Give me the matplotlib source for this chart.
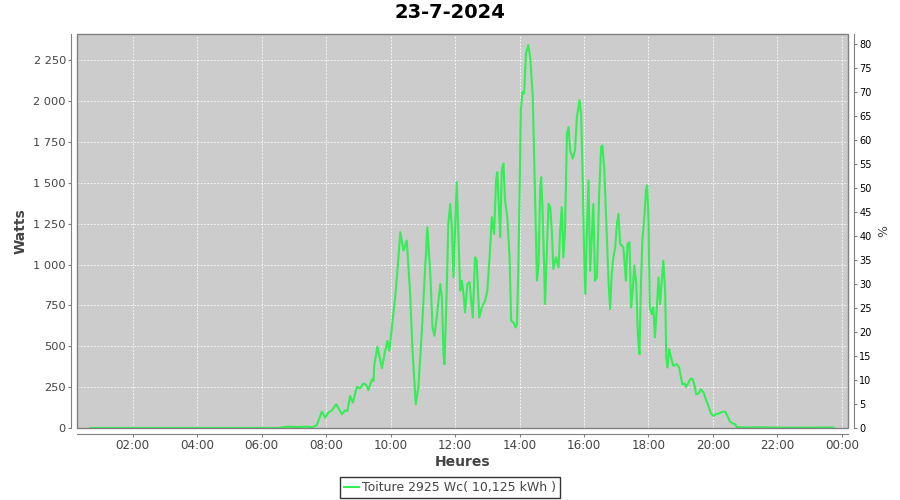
import matplotlib

matplotlib.use("Agg")
import matplotlib.pyplot as plt
from matplotlib.patches import Rectangle
from matplotlib.ticker import FuncFormatter

plt.rcParams["font.family"] = ["DejaVu Sans"]

TITRE = "23-7-2024"
SERIE = "Toiture 2925 Wc( 10,125 kWh )"

# production relevée (heure décimale, W)
heures = [
    0.68, 1.5, 2.5, 3.5, 4.5, 5.5, 6.5, 6.8, 7.1, 7.4, 7.55, 7.70,
    7.87, 7.97, 8.07, 8.18, 8.31, 8.49, 8.59, 8.66, 8.74, 8.83, 8.95, 9.05,
    9.16, 9.24, 9.31, 9.42, 9.47, 9.49, 9.59, 9.73, 9.83, 9.90, 9.96, 10.04,
    10.14, 10.22, 10.30, 10.40, 10.50, 10.60, 10.68, 10.78, 10.86, 10.97, 11.05, 11.14,
    11.23, 11.30, 11.36, 11.43, 11.54, 11.59, 11.64, 11.67, 11.74, 11.79, 11.85, 11.90,
    11.95, 12.00, 12.05, 12.10, 12.16, 12.21, 12.26, 12.31, 12.38, 12.45, 12.50, 12.55,
    12.62, 12.67, 12.75, 12.83, 12.93, 13.00, 13.07, 13.14, 13.21, 13.27, 13.31, 13.36,
    13.40, 13.45, 13.50, 13.55, 13.62, 13.69, 13.74, 13.81, 13.88, 13.92, 13.96, 13.99,
    14.04, 14.09, 14.14, 14.20, 14.27, 14.33, 14.41, 14.48, 14.54, 14.59, 14.64, 14.67,
    14.71, 14.76, 14.79, 14.85, 14.90, 14.95, 15.00, 15.05, 15.13, 15.21, 15.26, 15.31,
    15.36, 15.41, 15.47, 15.52, 15.57, 15.65, 15.72, 15.78, 15.86, 15.91, 15.96, 16.00,
    16.04, 16.09, 16.14, 16.19, 16.24, 16.29, 16.34, 16.40, 16.47, 16.53, 16.57, 16.63,
    16.71, 16.76, 16.81, 16.86, 16.91, 16.97, 17.02, 17.07, 17.12, 17.22, 17.30, 17.35,
    17.41, 17.46, 17.51, 17.56, 17.62, 17.67, 17.72, 17.77, 17.81, 17.88, 17.92, 17.96,
    18.00, 18.04, 18.10, 18.15, 18.20, 18.26, 18.31, 18.36, 18.41, 18.46, 18.52, 18.55,
    18.59, 18.64, 18.70, 18.77, 18.88, 18.95, 19.01, 19.05, 19.12, 19.16, 19.22, 19.29,
    19.36, 19.42, 19.48, 19.55, 19.63, 19.71, 19.78, 19.86, 19.94, 20.02, 20.09, 20.17,
    20.28, 20.38, 20.45, 20.53, 20.62, 20.69, 20.74, 21.0, 21.5, 22.0, 22.5, 23.0,
    23.5, 23.74,
]
watts = [
    0, 0, 0, 0, 0, 0, 0, 8, 6, 8, 5, 15,
    100, 63, 94, 108, 145, 84, 108, 104, 196, 155, 251, 243,
    272, 264, 231, 298, 288, 380, 497, 366, 472, 533, 472, 615,
    799, 983, 1197, 1085, 1146, 840, 472, 145, 247, 595, 901, 1228,
    942, 615, 564, 676, 881, 799, 452, 390, 840, 1249, 1371, 1228,
    921, 1208, 1504, 1208, 840, 901, 820, 707, 881, 891, 779, 676,
    1044, 1024, 676, 738, 779, 840, 1044, 1289, 1187, 1514, 1565, 1351,
    1167, 1576, 1617, 1392, 1289, 1044, 656, 646, 615, 636, 962, 1300,
    1943, 2056, 2046, 2291, 2342, 2270, 2025, 1412, 901, 1004, 1473, 1535,
    1351, 1004, 758, 1105, 1371, 1351, 1208, 973, 1044, 983, 1208, 1351,
    1044, 1208, 1800, 1841, 1698, 1647, 1698, 1902, 2005, 1923, 1514, 1105,
    820, 1208, 1514, 962, 1167, 1371, 901, 921, 1432, 1718, 1729, 1576,
    1167, 901, 728, 942, 1044, 1105, 1249, 1310, 1126, 1105, 901, 1126,
    1136, 738, 840, 993, 881, 574, 452, 901, 1146, 1310, 1453, 1484,
    1269, 738, 697, 738, 554, 738, 921, 758, 901, 1024, 820, 431,
    370, 483, 431, 380, 391, 370, 308, 268, 272, 251, 268, 298,
    302, 268, 207, 210, 237, 216, 176, 135, 88, 74, 84, 88,
    98, 100, 74, 39, 27, 23, 6, 3, 4, 2, 2, 2,
    3, 2,
]

x_ticks = [2, 4, 6, 8, 10, 12, 14, 16, 18, 20, 22, 24]
x_labels = ["02:00", "04:00", "06:00", "08:00", "10:00", "12:00",
            "14:00", "16:00", "18:00", "20:00", "22:00", "00:00"]
watts_ticks = [0, 250, 500, 750, 1000, 1250, 1500, 1750, 2000, 2250]
pct_ticks = [0, 5, 10, 15, 20, 25, 30, 35, 40, 45, 50, 55, 60, 65, 70, 75, 80]

VERT = "#33ee55"
FOND = "#cccccc"
GRIS = "#444444"
BORD = "#808080"

fig = plt.figure(figsize=(9, 5), dpi=100)
ax = fig.add_axes([77 / 900, 1 - 428 / 500, 771 / 900, 394 / 500])
ax.set_facecolor(FOND)
ax.set_axisbelow(True)
ax.grid(color="white", linestyle=(0, (2, 2)), linewidth=0.6)

ax.plot(heures, watts, color=VERT, linewidth=1.5, label=SERIE, zorder=3)

ax.set_xlim(0.27, 24.19)
ax.set_ylim(0, 2410)
ax.set_xticks(x_ticks)
ax.set_xticklabels(x_labels)
ax.set_yticks(watts_ticks)
ax.yaxis.set_major_formatter(FuncFormatter(lambda v, _: f"{v:,.0f}".replace(",", " ")))

for side in ("top", "right"):
    ax.spines[side].set_visible(False)
for side in ("left", "bottom"):
    ax.spines[side].set_position(("outward", 4))
    ax.spines[side].set_color(BORD)
ax.tick_params(length=2, color=BORD, labelcolor=GRIS, labelsize=8.2, pad=2)
ax.tick_params(axis="x", labelsize=8.6)
ax.add_patch(Rectangle((0, 0), 1, 1, transform=ax.transAxes, fill=False,
                       edgecolor=BORD, linewidth=1, clip_on=False, zorder=5))

ax.set_xlabel("Heures", fontsize=10, fontweight="bold", color=GRIS)
ax.xaxis.set_label_coords(0.5, -0.068)
ax.set_ylabel("Watts", fontsize=10, fontweight="bold", color=GRIS)
ax.yaxis.set_label_coords(-0.0636, 0.5)

ax2 = ax.twinx()
ax2.set_ylim(0, 82.1)
ax2.set_yticks(pct_ticks)
for side in ("top", "left", "bottom"):
    ax2.spines[side].set_visible(False)
ax2.spines["right"].set_position(("outward", 4))
ax2.spines["right"].set_color(BORD)
ax2.tick_params(length=2, color=BORD, labelcolor="black", labelsize=7, pad=2)
ax2.set_ylabel("%", fontsize=9, color=GRIS)
ax2.yaxis.set_label_coords(1.0376, 0.5)

fig.suptitle(TITRE, x=0.5, y=0.995, fontsize=14, fontweight="bold")

leg = fig.legend(loc="center", bbox_to_anchor=(0.5, 0.025), fontsize=9,
                 frameon=True, fancybox=False, edgecolor="black",
                 handlelength=1.2, handletextpad=0.3, borderpad=0.3,
                 borderaxespad=0)
leg.get_frame().set_linewidth(1)
for txt in leg.get_texts():
    txt.set_color(GRIS)

fig.savefig("out.png", dpi=100)
